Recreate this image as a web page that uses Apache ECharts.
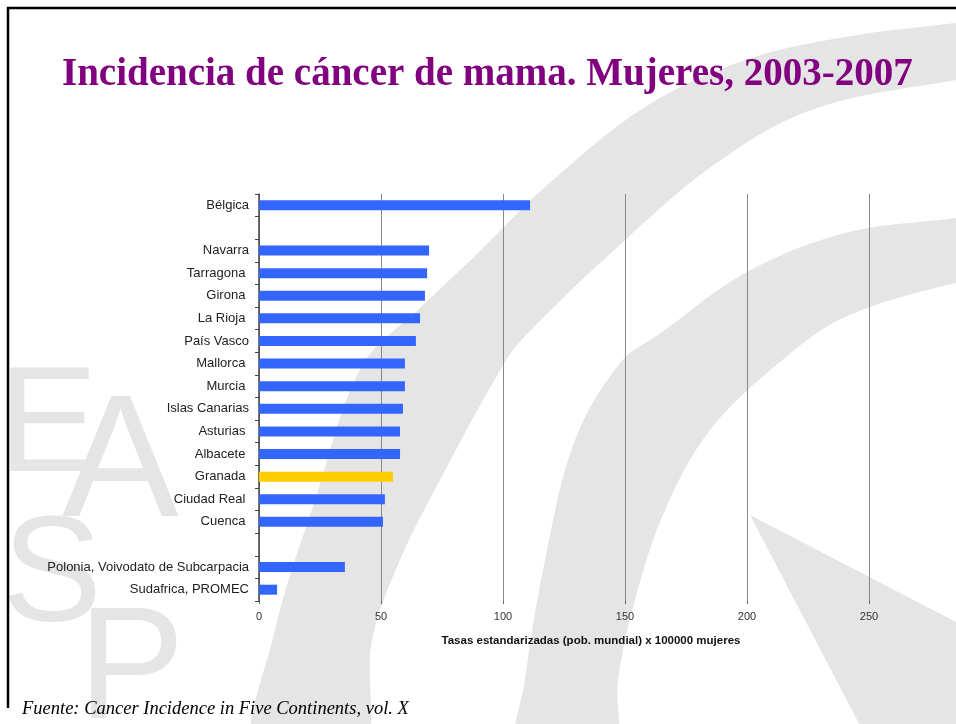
<!DOCTYPE html>
<html>
<head>
<meta charset="utf-8">
<script src="https://cdn.jsdelivr.net/npm/echarts@6/dist/echarts.min.js"></script>
<style>
html, body { margin: 0; padding: 0; background: #fff; }
#chart { width: 956px; height: 724px; }
</style>
</head>
<body>
<div id="chart"></div>
<script>
// registros, de arriba abajo (las vacias son separadores)
const categorias = ['Bélgica', ' ', 'Navarra', 'Tarragona ', 'Girona ', 'La Rioja ', 'País Vasco', 'Mallorca ',
    'Murcia ', 'Islas Canarias', 'Asturias ', 'Albacete ', 'Granada ', 'Ciudad Real ', 'Cuenca ', '  ',
    'Polonia, Voivodato de Subcarpacia', 'Sudafrica, PROMEC'];
const tasas = [111.1, null, 69.7, 68.9, 68.0, 66.0, 64.3, 59.8,
    59.8, 59.0, 57.8, 57.8, 54.9, 51.6, 50.8, null,
    35.2, 7.4];
const destacado = 'Granada ';
const ticksX = [0, 50, 100, 150, 200, 250];

const azul = '#3366FF';
const amarillo = '#FFCC00';
const gris = '#e5e5e5';

// marca de agua EASP (decorado de la diapositiva)
const fondo = [
    {
        type: 'polygon', z: -20, silent: true,
        shape: {
            smooth: 0.35,
            points: [[1060, 12], [956, 23], [845, 37], [745, 60], [645, 107], [545, 187], [478, 253], [420, 308],
                [362, 366], [315, 500], [275, 630], [255, 760],
                [360, 760], [372, 640], [400, 560], [440, 480], [505, 362], [528, 333], [611, 253], [711, 167],
                [811, 110], [956, 80], [1060, 66]]
        },
        style: { fill: gris }
    },
    {
        type: 'polygon', z: -20, silent: true,
        shape: {
            smooth: 0.35,
            points: [[1060, 205], [956, 218], [845, 233], [745, 273], [661, 333], [621, 362], [575, 440], [545, 560],
                [525, 680], [518, 760],
                [612, 760], [618, 680], [635, 600], [665, 510], [710, 430], [780, 362], [845, 317], [956, 283], [1060, 265]]
        },
        style: { fill: gris }
    },
    {
        type: 'polygon', z: -20, silent: true,
        shape: { points: [[750, 515], [1000, 645], [1000, 760], [878, 760]] },
        style: { fill: gris }
    },
    { type: 'text', z: -19, silent: true, style: { text: 'E', x: -2, y: 355, font: '150px "Liberation Sans", Arial', fill: gris } },
    { type: 'text', z: -19, silent: true, style: { text: 'A', x: 62, y: 380, font: '175px "Liberation Sans", Arial', fill: gris } },
    { type: 'text', z: -19, silent: true, style: { text: 'S', x: 2, y: 505, font: '150px "Liberation Sans", Arial', fill: gris } },
    { type: 'text', z: -19, silent: true, style: { text: 'P', x: 78, y: 594, font: '160px "Liberation Sans", Arial', fill: gris } },
    // marco
    { type: 'line', z: -5, silent: true, shape: { x1: 7, y1: 8, x2: 956, y2: 8 }, style: { stroke: '#000', lineWidth: 2.5 } },
    { type: 'line', z: -5, silent: true, shape: { x1: 8, y1: 7, x2: 8, y2: 708 }, style: { stroke: '#000', lineWidth: 2.5 } }
];

const myChart = echarts.init(document.getElementById('chart'));

const option = {
    backgroundColor: '#fff',
    animation: false,
    title: [{
        text: 'Incidencia de cáncer de mama. Mujeres, 2003-2007',
        left: 62,
        top: 55,
        padding: 0,
        textStyle: {
            fontFamily: '"Liberation Serif", serif',
            fontWeight: 'bold',
            fontSize: 39,
            color: '#800080'
        }
    }, {
        text: 'Fuente: Cancer Incidence in Five Continents, vol. X',
        left: 22,
        top: 700,
        padding: 0,
        textStyle: {
            fontFamily: '"Liberation Serif", serif',
            fontStyle: 'italic',
            fontWeight: 'normal',
            fontSize: 18.5,
            color: '#000'
        }
    }],
    graphic: fondo,
    grid: {
        left: 259,
        right: 87,
        top: 194,
        bottom: 123,
        containLabel: false
    },
    xAxis: {
        type: 'value',
        min: ticksX[0],
        max: ticksX[ticksX.length - 1],
        interval: 50,
        name: 'Tasas estandarizadas (pob. mundial) x 100000 mujeres',
        nameLocation: 'middle',
        nameGap: 34,
        nameTextStyle: {
            fontFamily: '"Liberation Sans", Arial',
            fontWeight: 'bold',
            fontSize: 11.5,
            color: '#111',
            padding: [0, 0, 0, 54]
        },
        axisLabel: {
            margin: 10,
            fontFamily: '"Liberation Sans", Arial',
            fontSize: 11,
            color: '#333'
        },
        axisLine: { lineStyle: { color: '#666', width: 1.5 } },
        axisTick: { show: true, length: 3, lineStyle: { color: '#666' } },
        splitLine: { show: true, lineStyle: { color: '#888', width: 1 } }
    },
    yAxis: {
        type: 'category',
        inverse: true,
        data: categorias,
        axisLabel: {
            margin: 10,
            interval: 0,
            fontFamily: '"Liberation Sans", Arial',
            fontSize: 13,
            color: '#222'
        },
        axisLine: { lineStyle: { color: '#444', width: 1.5 } },
        axisTick: { show: true, length: 4, interval: 0, lineStyle: { color: '#444' } }
    },
    series: [{
        type: 'bar',
        barWidth: 10,
        data: tasas.map((v, i) => ({
            value: v,
            itemStyle: { color: categorias[i] === destacado ? amarillo : azul }
        }))
    }]
};
myChart.setOption(option);

window.addEventListener('resize', () => {
    myChart.resize();
});
</script>
</body>
</html>
